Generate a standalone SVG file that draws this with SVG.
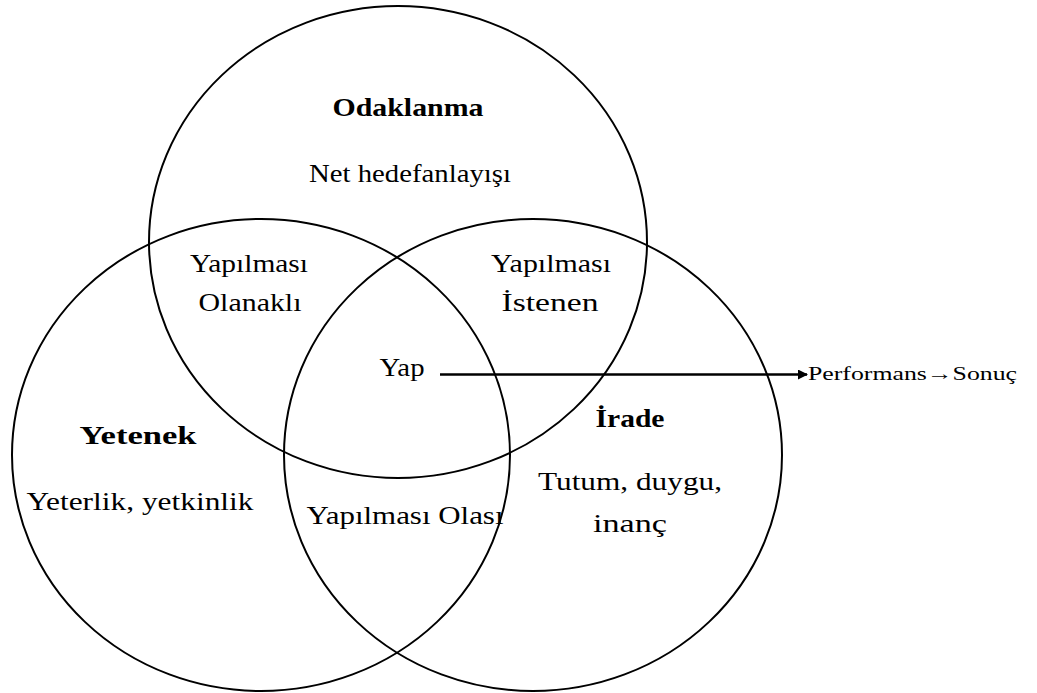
<svg xmlns="http://www.w3.org/2000/svg" width="1037" height="693" viewBox="0 0 1037 693">
  <defs>
    <style>
      .ring { fill: none; stroke: #000; stroke-width: 2; }
      .lbl { font-family: "Liberation Serif", "DejaVu Serif", serif; font-size: 26px; fill: #000; text-anchor: middle; }
      .head { font-weight: bold; }
      .out { font-family: "Liberation Serif", "DejaVu Serif", serif; font-size: 19px; fill: #000; }
      .link { stroke: #000; stroke-width: 2.5; fill: none; }
    </style>
    <marker id="arrow" viewBox="0 0 10 10" refX="9" refY="5" markerWidth="4" markerHeight="4" orient="auto" markerUnits="strokeWidth">
      <path d="M0,0 L10,5 L0,10 Z" fill="#000"/>
    </marker>
  </defs>
  <rect width="1037" height="693" fill="#fff"/>

  <g id="focus">
    <ellipse class="ring" cx="398" cy="242" rx="249" ry="236"/>
    <text class="lbl head" x="408" y="116" textLength="151" lengthAdjust="spacingAndGlyphs">Odaklanma</text>
    <text class="lbl" x="410" y="182" textLength="202" lengthAdjust="spacingAndGlyphs">Net hedefanlayışı</text>
  </g>

  <g id="ability">
    <ellipse class="ring" cx="261" cy="455" rx="249" ry="236"/>
    <text class="lbl head" x="138" y="444" textLength="117" lengthAdjust="spacingAndGlyphs">Yetenek</text>
    <text class="lbl" x="140" y="510" textLength="227" lengthAdjust="spacingAndGlyphs">Yeterlik, yetkinlik</text>
  </g>

  <g id="will">
    <ellipse class="ring" cx="533" cy="455" rx="249" ry="236"/>
    <text class="lbl head" x="630" y="427" textLength="69" lengthAdjust="spacingAndGlyphs">İrade</text>
    <text class="lbl" x="630" y="490" textLength="184" lengthAdjust="spacingAndGlyphs">Tutum, duygu,</text>
    <text class="lbl" x="630" y="532" textLength="74" lengthAdjust="spacingAndGlyphs">inanç</text>
  </g>

  <g id="possible">
    <text class="lbl" x="249" y="272" textLength="118" lengthAdjust="spacingAndGlyphs">Yapılması</text>
    <text class="lbl" x="250" y="311" textLength="103" lengthAdjust="spacingAndGlyphs">Olanaklı</text>
  </g>

  <g id="wanted">
    <text class="lbl" x="551" y="272" textLength="120" lengthAdjust="spacingAndGlyphs">Yapılması</text>
    <text class="lbl" x="550" y="311" textLength="97" lengthAdjust="spacingAndGlyphs">İstenen</text>
  </g>

  <g id="likely">
    <text class="lbl" x="405" y="524" textLength="197" lengthAdjust="spacingAndGlyphs">Yapılması Olası</text>
  </g>

  <g id="do">
    <text class="lbl" x="402" y="376" textLength="45" lengthAdjust="spacingAndGlyphs">Yap</text>
  </g>

  <g id="result">
    <text class="out" x="808" y="380" textLength="209" lengthAdjust="spacingAndGlyphs">Performans→Sonuç</text>
  </g>

  <g id="connectors">
    <line class="link" x1="440" y1="374.5" x2="807" y2="374.5" marker-end="url(#arrow)"/>
  </g>
</svg>
